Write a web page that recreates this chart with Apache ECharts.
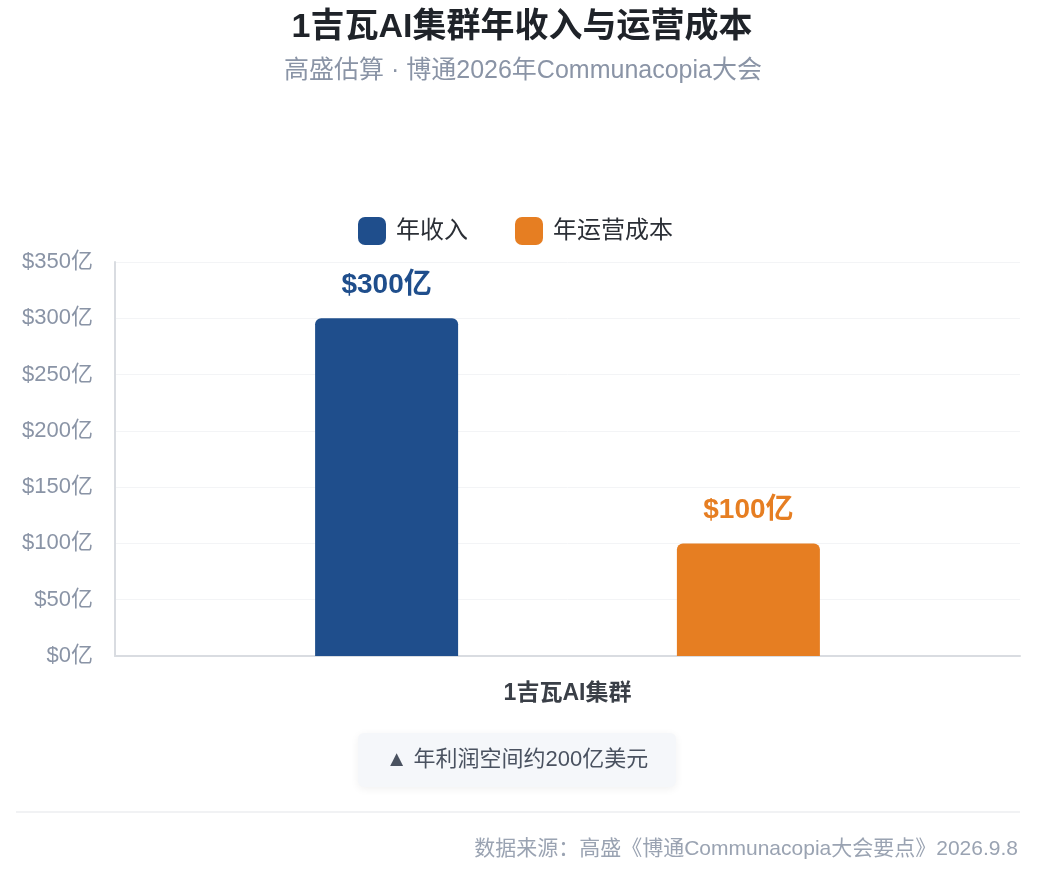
<!DOCTYPE html>
<html>
<head>
<meta charset="utf-8">
<script src="https://cdn.jsdelivr.net/npm/echarts@6/dist/echarts.min.js"></script>
<style>
  html, body { margin: 0; padding: 0; background: #fff; }
  #chart { width: 1056px; height: 874px; }
</style>
</head>
<body>
<div id="chart"></div>
<script>
const categories = ['1吉瓦AI集群'];
const seriesNames = ['年收入', '年运营成本'];
const revenue = [300];
const opCost = [100];
const yTicks = { min: 0, max: 350, interval: 50 };
const colors = ['#1f4e8c', '#e67e22'];
const FONT = '"Liberation Sans", "Noto Sans CJK SC", sans-serif';

const chart = echarts.init(document.getElementById('chart'));

chart.setOption({
  backgroundColor: '#fff',
  textStyle: { fontFamily: FONT },
  title: [{
    text: '1吉瓦AI集群年收入与运营成本',
    left: 517, top: 6, textAlign: 'center',
    textStyle: { fontSize: 34, fontWeight: 'bold', color: '#1f2329', fontFamily: FONT }
  }, {
    text: '高盛估算 · 博通2026年Communacopia大会',
    left: 518, top: 54, textAlign: 'center',
    textStyle: { fontSize: 25, fontWeight: 'normal', color: '#8a94a6', fontFamily: FONT }
  }, {
    text: '数据来源：高盛《博通Communacopia大会要点》2026.9.8',
    right: 33, top: 834,
    textStyle: { fontSize: 21, fontWeight: 'normal', color: '#9aa3b2', fontFamily: FONT }
  }],
  legend: {
    data: seriesNames,
    top: 212,
    left: 353,
    itemWidth: 28,
    itemHeight: 28,
    itemGap: 47,
    icon: 'roundRect',
    textStyle: { fontSize: 24, color: '#2b2f36', fontFamily: FONT, padding: [0, 0, 0, 5] }
  },
  grid: { left: 115, right: 36, top: 262, bottom: 218, containLabel: false },
  xAxis: {
    type: 'category',
    data: categories,
    axisLine: { lineStyle: { color: '#d9dce1', width: 2 } },
    axisTick: { show: false },
    axisLabel: { fontSize: 23, fontWeight: 'bold', color: '#3a3f47', margin: 26, fontFamily: FONT }
  },
  yAxis: {
    type: 'value',
    min: yTicks.min, max: yTicks.max, interval: yTicks.interval,
    axisLine: { show: true, lineStyle: { color: '#d9dce1', width: 2 } },
    axisTick: { show: false },
    splitLine: { lineStyle: { color: '#f3f4f6', width: 1 } },
    axisLabel: {
      fontSize: 22, color: '#8a94a6', margin: 22, fontFamily: FONT,
      formatter: v => '$' + v + '亿'
    }
  },
  series: [{
    name: seriesNames[0],
    type: 'bar',
    data: revenue,
    barWidth: 143,
    barGap: '153%',
    itemStyle: { color: colors[0], borderRadius: [6, 6, 0, 0] },
    label: {
      show: true, position: 'top', distance: 19,
      fontSize: 28, fontWeight: 'bold', color: colors[0], fontFamily: FONT,
      formatter: p => '$' + p.value + '亿'
    }
  }, {
    name: seriesNames[1],
    type: 'bar',
    data: opCost,
    barWidth: 143,
    itemStyle: { color: colors[1], borderRadius: [6, 6, 0, 0] },
    label: {
      show: true, position: 'top', distance: 19,
      fontSize: 28, fontWeight: 'bold', color: colors[1], fontFamily: FONT,
      formatter: p => '$' + p.value + '亿'
    }
  }],
  graphic: [{
    type: 'rect',
    shape: { x: 358, y: 733, width: 318, height: 54, r: 6 },
    style: { fill: '#f5f7fa', shadowBlur: 8, shadowColor: 'rgba(0,0,0,0.06)', shadowOffsetY: 2 }
  }, {
    type: 'text',
    x: 517, y: 760,
    style: {
      text: '▲ 年利润空间约200亿美元',
      fill: '#4a5260', fontSize: 22, fontFamily: FONT,
      align: 'center', verticalAlign: 'middle'
    }
  }, {
    type: 'line',
    shape: { x1: 16, y1: 812, x2: 1020, y2: 812 },
    style: { stroke: '#eceef1', lineWidth: 1.5 }
  }]
});
</script>
</body>
</html>
